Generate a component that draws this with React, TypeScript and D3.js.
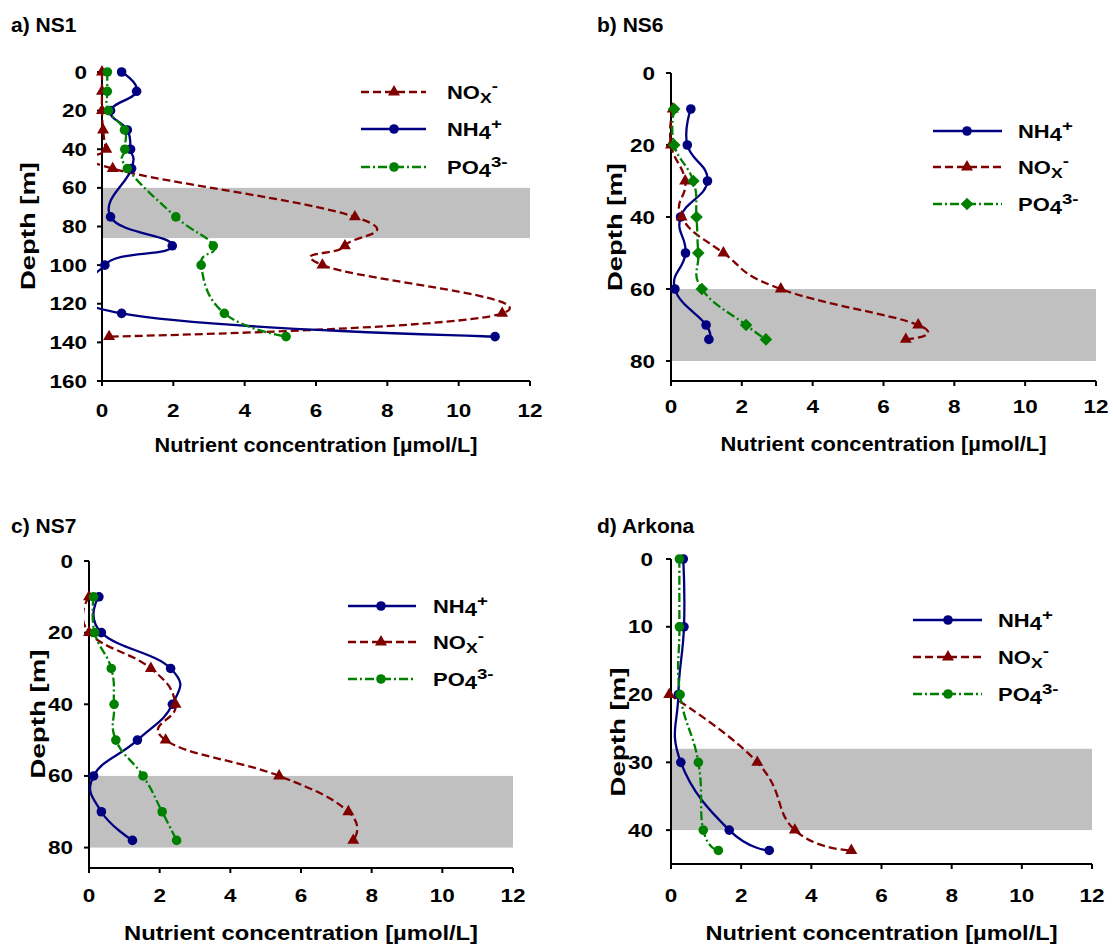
import React from 'react';
import * as d3 from 'd3';

// ---------------- DATA ----------------
const xTicks = [0, 2, 4, 6, 8, 10, 12];

const ns1Depth = [0, 10, 20, 30, 40, 50, 75, 90, 100, 125, 137];
const ns1NH4 = [0.55, 0.97, 0.24, 0.71, 0.8, 0.83, 0.24, 1.97, 0.08, 0.55, 11.02];
const ns1NOx = [0, 0, 0, 0.03, 0.12, 0.3, 7.09, 6.81, 6.18, 11.22, 0.2];
const ns1PO4 = [0.15, 0.15, 0.18, 0.63, 0.64, 0.71, 2.07, 3.12, 2.78, 3.43, 5.16];
const ns1YTicks = [0, 20, 40, 60, 80, 100, 120, 140, 160];

const ns6Depth = [10, 20, 30, 40, 50, 60, 70, 74];
const ns6NH4 = [0.56, 0.46, 1.03, 0.27, 0.41, 0.11, 0.99, 1.07];
const ns6NOx = [0.05, 0, 0.4, 0.3, 1.48, 3.1, 6.98, 6.63];
const ns6PO4 = [0.09, 0.09, 0.63, 0.72, 0.77, 0.87, 2.12, 2.68];
const ns6YTicks = [0, 20, 40, 60, 80];

const ns7Depth = [10, 20, 30, 40, 50, 60, 70, 78];
const ns7NH4 = [0.28, 0.35, 2.31, 2.36, 1.37, 0.13, 0.35, 1.23];
const ns7NOx = [0, 0, 1.75, 2.45, 2.17, 5.38, 7.34, 7.48];
const ns7PO4 = [0.13, 0.16, 0.63, 0.71, 0.76, 1.53, 2.07, 2.48];
const ns7YTicks = [0, 20, 40, 60, 80];

const arkDepth = [0, 10, 20, 30, 40, 43];
const arkNH4 = [0.35, 0.37, 0.21, 0.28, 1.66, 2.8];
const arkNOx = [null, null, -0.05, 2.46, 3.53, 5.14];
const arkPO4 = [0.24, 0.24, 0.26, 0.78, 0.92, 1.35];
const arkYTicks = [0, 10, 20, 30, 40];

// ---------------- STYLE ----------------
const FONT = '"Liberation Sans", Arial, Helvetica, sans-serif';
const NAVY = '#000080';
const MAROON = '#800000';
const GREEN = '#008000';
const GRAY = '#C0C0C0';
const NOX_DASH = '8,4';
const PO4_DASH = '9,3,2,3';
const LW = 2.3;

type Series = { key: string; vals: (number | null)[]; color: string; dash?: string; marker: string };

function Marker({ kind, x, y, color }: { kind: string; x: number; y: number; color: string }) {
  if (kind === 'circle') return <circle cx={x} cy={y} r={4.8} fill={color} />;
  if (kind === 'triangle')
    return <path d={d3.symbol(d3.symbolTriangle, 62)() as string} transform={`translate(${x},${y})`} fill={color} />;
  return <path d="M0,-6.3L6.3,0L0,6.3L-6.3,0Z" transform={`translate(${x},${y})`} fill={color} />;
}

function IonLabel({ k }: { k: string }) {
  if (k === 'NH4')
    return (
      <>
        <tspan>NH</tspan>
        <tspan dy={3}>4</tspan>
        <tspan dy={-10} fontSize="0.85em">+</tspan>
      </>
    );
  if (k === 'NOx')
    return (
      <>
        <tspan>NO</tspan>
        <tspan dy={4} fontSize="0.8em">X</tspan>
        <tspan dy={-12} fontSize="0.85em">-</tspan>
      </>
    );
  return (
    <>
      <tspan>PO</tspan>
      <tspan dy={3}>4</tspan>
      <tspan dy={-10} fontSize="0.85em">3-</tspan>
    </>
  );
}

type PanelCfg = {
  id: string;
  title: string;
  titleX: number;
  titleY: number;
  xr: [number, number];
  yTop: number;
  yAxis: number;
  dMax: number;
  yTicks: number[];
  band: [number, number];
  depth: number[];
  series: Series[];
  legend: { lx0: number; lx1: number; mx: number; tx: number; rows: number[] };
  yLabelX: number;
  yLabelY: number;
  yLabelLen: number;
  tickLabelRight: number;
  xTickBase: number;
  xTitleBase: number;
  xTitleLen: number;
};

const nh4 = (v: (number | null)[]): Series => ({ key: 'NH4', vals: v, color: NAVY, marker: 'circle' });
const nox = (v: (number | null)[]): Series => ({ key: 'NOx', vals: v, color: MAROON, dash: NOX_DASH, marker: 'triangle' });
const po4 = (v: (number | null)[], m = 'circle'): Series => ({ key: 'PO4', vals: v, color: GREEN, dash: PO4_DASH, marker: m });

const panels: PanelCfg[] = [
  {
    id: 'a', title: 'a) NS1', titleX: 11, titleY: 32, xr: [102, 530], yTop: 72, yAxis: 381, dMax: 160,
    yTicks: ns1YTicks, band: [60, 86], depth: ns1Depth,
    series: [nox(ns1NOx), nh4(ns1NH4), po4(ns1PO4)],
    legend: { lx0: 361, lx1: 426, mx: 394, tx: 447, rows: [92, 129, 167] },
    yLabelX: 35, yLabelY: 226, yLabelLen: 128, tickLabelRight: 87, xTickBase: 417, xTitleBase: 452, xTitleLen: 323,
  },
  {
    id: 'b', title: 'b) NS6', titleX: 597, titleY: 32, xr: [671, 1096], yTop: 73, yAxis: 381, dMax: 85.55,
    yTicks: ns6YTicks, band: [60, 80], depth: ns6Depth,
    series: [nh4(ns6NH4), nox(ns6NOx), po4(ns6PO4, 'diamond')],
    legend: { lx0: 933, lx1: 1002, mx: 967, tx: 1018, rows: [131, 167, 204] },
    yLabelX: 622, yLabelY: 227, yLabelLen: 128, tickLabelRight: 655, xTickBase: 413, xTitleBase: 451, xTitleLen: 326,
  },
  {
    id: 'c', title: 'c) NS7', titleX: 11, titleY: 533, xr: [89, 513], yTop: 561, yAxis: 868, dMax: 85.7,
    yTicks: ns7YTicks, band: [60, 80], depth: ns7Depth,
    series: [nh4(ns7NH4), nox(ns7NOx), po4(ns7PO4)],
    legend: { lx0: 348, lx1: 416, mx: 381, tx: 433, rows: [606, 642, 679] },
    yLabelX: 45, yLabelY: 714, yLabelLen: 129, tickLabelRight: 73, xTickBase: 902, xTitleBase: 940, xTitleLen: 354,
  },
  {
    id: 'd', title: 'd) Arkona', titleX: 597, titleY: 533, xr: [671, 1092], yTop: 559, yAxis: 864, dMax: 45.0,
    yTicks: arkYTicks, band: [28, 40], depth: arkDepth,
    series: [nh4(arkNH4), nox(arkNOx), po4(arkPO4)],
    legend: { lx0: 913, lx1: 982, mx: 948, tx: 998, rows: [620, 657, 694] },
    yLabelX: 625, yLabelY: 732, yLabelLen: 129, tickLabelRight: 653, xTickBase: 902, xTitleBase: 940, xTitleLen: 352,
  },
];

function Panel({ p }: { p: PanelCfg }) {
  const x = d3.scaleLinear().domain([0, 12]).range(p.xr);
  const y = d3.scaleLinear().domain([0, p.dMax]).range([p.yTop, p.yAxis]);
  const x0 = p.xr[0];
  const clipId = `clip-${p.id}`;
  const tickSX = 1.25;

  return (
    <g>
      <defs>
        <clipPath id={clipId}>
          <rect x={x0 - 5} y={p.yTop - 20} width={p.xr[1] - x0 + 25} height={p.yAxis - p.yTop + 20} />
        </clipPath>
      </defs>
      <text x={p.titleX} y={p.titleY} fontFamily={FONT} fontWeight="bold" fontSize={21}>
        {p.title}
      </text>
      <rect x={x(0)} y={y(p.band[0])} width={x(12) - x(0)} height={y(p.band[1]) - y(p.band[0])} fill={GRAY} />
      <line x1={x0} x2={x0} y1={p.yTop} y2={p.yAxis} stroke="#000" strokeWidth={2} />
      <line x1={x0} x2={x(12)} y1={p.yAxis} y2={p.yAxis} stroke="#000" strokeWidth={2} />
      {p.yTicks.map((t) => (
        <g key={`yt${t}`}>
          <line x1={x0 - 5} x2={x0} y1={y(t)} y2={y(t)} stroke="#000" strokeWidth={2} />
          <text
            transform={`translate(${p.tickLabelRight},${y(t) + 6.5}) scale(${tickSX},1)`}
            textAnchor="end" fontFamily={FONT} fontWeight="bold" fontSize={18}
          >
            {t}
          </text>
        </g>
      ))}
      {xTicks.map((t) => (
        <g key={`xt${t}`}>
          <line x1={x(t)} x2={x(t)} y1={p.yAxis} y2={p.yAxis + 5} stroke="#000" strokeWidth={2} />
          <text
            transform={`translate(${x(t)},${p.xTickBase}) scale(${tickSX},1)`}
            textAnchor="middle" fontFamily={FONT} fontWeight="bold" fontSize={18}
          >
            {t}
          </text>
        </g>
      ))}
      <text
        x={(p.xr[0] + p.xr[1]) / 2} y={p.xTitleBase} textAnchor="middle" fontFamily={FONT} fontWeight="bold"
        fontSize={20} textLength={p.xTitleLen} lengthAdjust="spacingAndGlyphs"
      >
        Nutrient concentration [µmol/L]
      </text>
      <text
        transform={`translate(${p.yLabelX},${p.yLabelY}) rotate(-90)`} textAnchor="middle" fontFamily={FONT}
        fontWeight="bold" fontSize={20} textLength={p.yLabelLen} lengthAdjust="spacingAndGlyphs"
      >
        Depth [m]
      </text>
      <g clipPath={`url(#${clipId})`}>
        {p.series.map((s) => {
          const pts = p.depth.map((d, i) => [s.vals[i], d] as [number | null, number]);
          const gen = d3
            .line<[number | null, number]>()
            .defined((d) => d[0] != null)
            .x((d) => x(d[0] as number))
            .y((d) => y(d[1]))
            .curve(d3.curveCardinal.tension(-0.35));
          return (
            <path key={s.key} d={gen(pts) as string} fill="none" stroke={s.color} strokeWidth={LW} strokeDasharray={s.dash} />
          );
        })}
      </g>
      {p.series.map((s) =>
        p.depth.map((d, i) =>
          s.vals[i] == null ? null : <Marker key={`${s.key}${i}`} kind={s.marker} x={x(s.vals[i] as number)} y={y(d)} color={s.color} />
        )
      )}
      {p.series.map((s, i) => {
        const ry = p.legend.rows[i];
        return (
          <g key={`lg${s.key}`}>
            <line x1={p.legend.lx0} x2={p.legend.lx1} y1={ry} y2={ry} stroke={s.color} strokeWidth={LW} strokeDasharray={s.dash} />
            <Marker kind={s.marker} x={p.legend.mx} y={ry} color={s.color} />
            <text
              transform={`translate(${p.legend.tx},${ry + 6.5}) scale(1.22,1)`}
              fontFamily={FONT} fontWeight="bold" fontSize={18}
            >
              <IonLabel k={s.key} />
            </text>
          </g>
        );
      })}
    </g>
  );
}

export default function App() {
  return (
    <svg
      width={1113}
      height={947}
      viewBox="0 0 1113 947"
      style={{ position: 'absolute', left: 0, top: 0, background: '#fff' }}
    >
      <rect width={1113} height={947} fill="#fff" />
      {panels.map((p) => (
        <Panel key={p.id} p={p} />
      ))}
    </svg>
  );
}
